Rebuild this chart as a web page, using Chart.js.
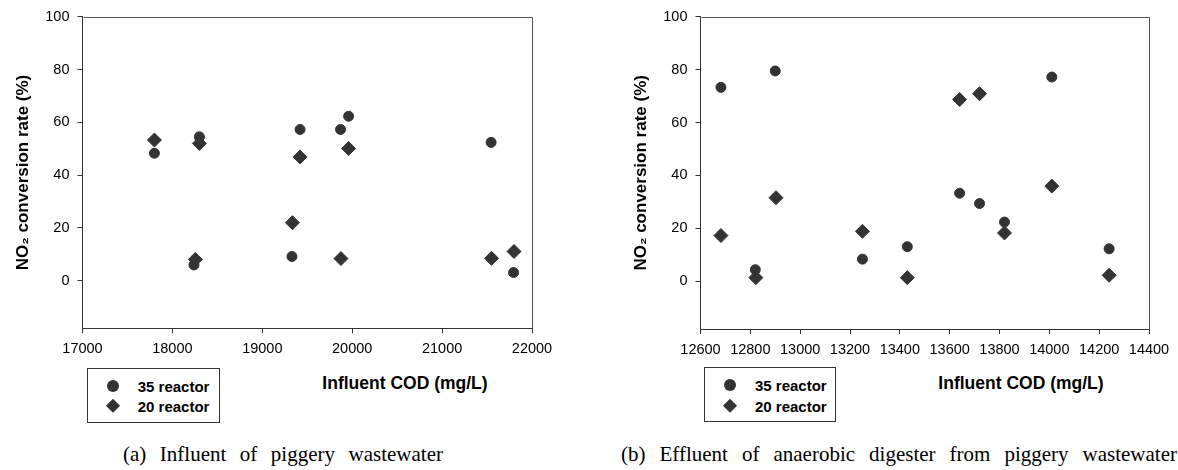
<!DOCTYPE html>
<html><head><meta charset="utf-8">
<script src="https://cdn.jsdelivr.net/npm/chart.js@4.4.1/dist/chart.umd.min.js"></script>
<style>
html,body{margin:0;padding:0;background:#fff;}
body{width:1178px;height:470px;position:relative;overflow:hidden;font-family:'Liberation Sans',Arial,sans-serif;color:#000;}
.cw{position:absolute;top:0;width:560px;height:365px;}
.xt{position:absolute;font-weight:bold;font-size:17.5px;white-space:nowrap;transform:translate(-50%,-50%);}
.lg{position:absolute;border:1px solid #333;box-sizing:border-box;}
.li{position:absolute;font-weight:bold;font-size:15px;white-space:nowrap;transform:translateY(-50%);line-height:1;}
.mc{position:absolute;width:12px;height:12px;border-radius:50%;background:#333;transform:translate(-50%,-50%);}
.md{position:absolute;width:10.4px;height:10.4px;background:#333;transform:translate(-50%,-50%) rotate(45deg);}
.cap{position:absolute;font-family:'Liberation Serif','Times New Roman',serif;font-size:21px;text-align:justify;text-align-last:justify;transform:translateY(-50%);line-height:1.2;}
</style></head>
<body>
<div class="cw" style="left:0"><canvas id="cA" width="560" height="365"></canvas></div>
<div class="cw" style="left:618px"><canvas id="cB" width="560" height="365"></canvas></div>

<div class="xt" style="left:405px;top:383px">Influent COD (mg/L)</div>
<div class="lg" style="left:87px;top:368px;width:133px;height:55px"></div>
<div class="mc" style="left:112.7px;top:385.7px"></div>
<div class="md" style="left:112.7px;top:406px"></div>
<div class="li" style="left:137.7px;top:385.7px">35 reactor</div>
<div class="li" style="left:137.7px;top:406px">20 reactor</div>
<div class="cap" style="left:123px;top:455px;width:320px">(a) Influent of piggery wastewater</div>

<div class="xt" style="left:1021px;top:383px">Influent COD (mg/L)</div>
<div class="lg" style="left:704px;top:367px;width:132px;height:55px"></div>
<div class="mc" style="left:730px;top:385px"></div>
<div class="md" style="left:730px;top:405.5px"></div>
<div class="li" style="left:755px;top:385px">35 reactor</div>
<div class="li" style="left:755px;top:405.5px">20 reactor</div>
<div class="cap" style="left:621px;top:455px;width:556px">(b) Effluent of anaerobic digester from piggery wastewater</div>

<script>
// Chart (a): influent of piggery wastewater
const codA35  = [17800, 18240, 18300, 19330, 19420, 19870, 19960, 21545, 21795];
const rateA35 = [48.3, 6.0, 54.5, 9.2, 57.3, 57.3, 62.3, 52.4, 3.1];
const codA20  = [17800, 18255, 18300, 19335, 19420, 19875, 19960, 21550, 21800];
const rateA20 = [53.3, 8.1, 52.0, 22.0, 46.9, 8.4, 50.1, 8.5, 11.1];
// Chart (b): effluent of anaerobic digester
const codB35  = [12682, 12820, 12900, 13250, 13430, 13640, 13720, 13820, 14010, 14240];
const rateB35 = [73.3, 4.4, 79.5, 8.4, 13.1, 33.3, 29.4, 22.4, 77.2, 12.3];
const codB20  = [12682, 12822, 12903, 13250, 13430, 13640, 13720, 13820, 14010, 14240];
const rateB20 = [17.3, 1.4, 31.6, 18.9, 1.4, 68.7, 70.9, 18.3, 36.0, 2.3];
// Tick labels
const yTicks  = [0, 20, 40, 60, 80, 100];
const xTicksA = [17000, 18000, 19000, 20000, 21000, 22000];
const xTicksB = [12600, 12800, 13000, 13200, 13400, 13600, 13800, 14000, 14200, 14400];
const seriesNames = ['35 reactor', '20 reactor'];
const yTitle = 'NO\u2082 conversion rate (%)';

const FONT = "'Liberation Sans', Arial, sans-serif";
const MARK = '#333333';

const framePlugin = {
  id: 'frame',
  afterDraw(chart) {
    const a = chart.chartArea, c = chart.ctx;
    c.save();
    c.strokeStyle = '#555';
    c.lineWidth = 1;
    c.beginPath();
    c.moveTo(Math.round(a.left) + 0.5, Math.round(a.top) + 0.5);
    c.lineTo(Math.round(a.right) + 0.5, Math.round(a.top) + 0.5);
    c.lineTo(Math.round(a.right) + 0.5, Math.round(a.bottom) + 0.5);
    c.stroke();
    c.restore();
  }
};

function pts(xs, ys) { return xs.map((x, i) => ({x: x, y: ys[i]})); }

function build(id, x35, y35, x20, y20, xTicks, o) {
  return new Chart(document.getElementById(id), {
    type: 'scatter',
    data: {
      datasets: [
        {label: seriesNames[0], data: pts(x35, y35), pointStyle: 'circle', pointRadius: 5, pointBorderWidth: 1,
         backgroundColor: MARK, borderColor: MARK},
        {label: seriesNames[1], data: pts(x20, y20), pointStyle: 'rectRot', pointRadius: 7, pointBorderWidth: 1,
         backgroundColor: MARK, borderColor: MARK}
      ]
    },
    options: {
      responsive: false, animation: false, events: [],
      layout: {padding: {top: o.top, right: o.right, left: 0, bottom: 0}},
      plugins: {legend: {display: false}, tooltip: {enabled: false}},
      scales: {
        x: {
          type: 'linear', min: xTicks[0], max: xTicks[xTicks.length - 1],
          afterBuildTicks: s => { s.ticks = xTicks.map(v => ({value: v})); },
          afterFit: s => { s.height = o.xh; },
          grid: {display: true, drawOnChartArea: false, drawTicks: true, tickLength: 5, color: '#333'},
          border: {display: true, color: '#333', width: 1},
          ticks: {autoSkip: false, maxRotation: 0, minRotation: 0, padding: 7, color: '#000',
                  callback: v => String(v),
                  font: {family: FONT, size: 14.5}}
        },
        y: {
          type: 'linear', min: -18, max: 100,
          afterBuildTicks: s => { s.ticks = yTicks.map(v => ({value: v})); },
          afterFit: s => { s.width = 82.5; },
          grid: {display: true, drawOnChartArea: false, drawTicks: true, tickLength: 5, color: '#333'},
          border: {display: true, color: '#333', width: 1},
          ticks: {padding: 8, color: '#000', callback: v => String(v), font: {family: FONT, size: 14.5}},
          title: {display: true, text: yTitle, color: '#000', padding: {top: 13, bottom: 0},
                  font: {family: FONT, size: 17, weight: 'bold'}}
        }
      }
    },
    plugins: [framePlugin]
  });
}

build('cA', codA35, rateA35, codA20, rateA20, xTicksA, {top: 14.3, right: 28, xh: 36.7});
build('cB', codB35, rateB35, codB20, rateB20, xTicksB, {top: 14.7, right: 29, xh: 36});
</script>
</body></html>
